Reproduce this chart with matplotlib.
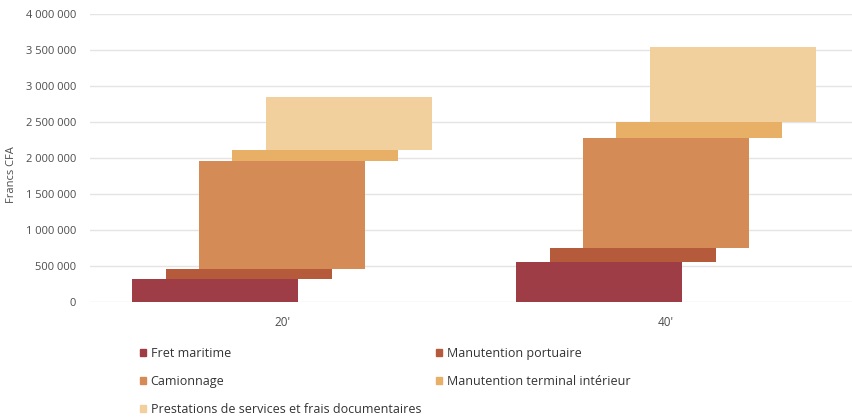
import numpy as np
import matplotlib
matplotlib.use('Agg')
import matplotlib.pyplot as plt
from matplotlib.ticker import FuncFormatter
from matplotlib.patches import Patch


# Data (Francs CFA)
categories = ["20'", "40'"]
series = ['Fret maritime', 'Manutention portuaire', 'Camionnage',
          'Manutention terminal intérieur',
          'Prestations de services et frais documentaires']
fret = [320000, 555000]
port = [133000, 199000]
camion = [1505000, 1524000]
terminal = [148000, 226000]
prestations = [736000, 1038000]
y_ticks = [0, 500000, 1000000, 1500000, 2000000, 2500000, 3000000,
           3500000, 4000000]

colors = ['#9E3D45', '#B65A3C', '#D48B56', '#E8AF67', '#F1D09E']

plt.rcParams['font.family'] = ['Open Sans', 'DejaVu Sans']

fig = plt.figure(figsize=(8.52, 4.17), dpi=100)
ax = fig.add_axes([90 / 852, 115 / 417, 762 / 852, 288 / 417])

x = np.arange(len(categories))
width = 0.432
step = 0.0868
bottom = np.zeros(len(categories))
values = [fret, port, camion, terminal, prestations]
for i, (name, vals) in enumerate(zip(series, values)):
    ax.bar(x + (i - 2) * step, vals, width=width, bottom=bottom,
           color=colors[i], label=name, zorder=2)
    bottom = bottom + np.array(vals)

ax.set_xlim(-0.5, 1.484)
ax.set_ylim(0, 4000000)
ax.set_yticks(y_ticks)
ax.yaxis.set_major_formatter(
    FuncFormatter(lambda v, p: f'{int(v):,}'.replace(',', ' ')))
ax.set_xticks(x)
ax.set_xticklabels(categories)

ax.grid(axis='y', color='#E4E4E4', linewidth=1, zorder=0)
ax.set_axisbelow(True)
for s in ax.spines.values():
    s.set_visible(False)
ax.tick_params(axis='both', length=0, colors='#4D4D4D', labelsize=8)
ax.tick_params(axis='y', pad=10)
ax.tick_params(axis='x', pad=10, labelsize=8.5)

ax.set_ylabel('Francs CFA', color='#4D4D4D', fontsize=8)
ax.yaxis.set_label_coords(-0.096, 0.444)

# Legend in two blocks, row-major like the reference
handles = [Patch(color=c) for c in colors]
common = dict(frameon=False, fontsize=9, handlelength=0.5, handleheight=0.5,
              handletextpad=0.35, labelspacing=1.2, labelcolor='#333333',
              borderaxespad=0, borderpad=0)
fig.legend([handles[0], handles[2], handles[4]],
           [series[0], series[2], series[4]],
           loc='upper left', bbox_to_anchor=(140 / 852, 1 - 347 / 417),
           **common)
fig.legend([handles[1], handles[3]], [series[1], series[3]],
           loc='upper left', bbox_to_anchor=(436 / 852, 1 - 347 / 417),
           **common)

fig.savefig('out.png', dpi=100, facecolor='white')
